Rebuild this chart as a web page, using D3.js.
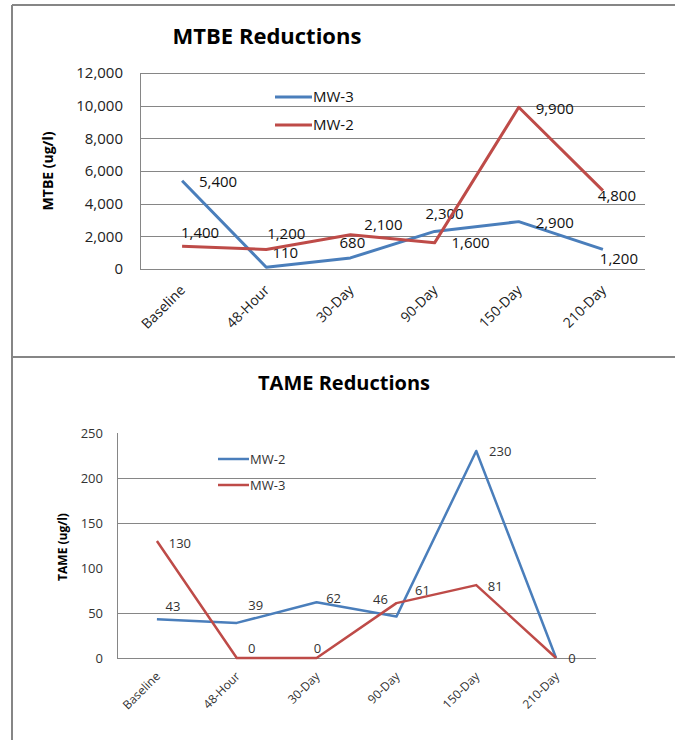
<!doctype html>
<html lang="en">
<head>
<meta charset="UTF-8">
<script src="https://d3js.org/d3.v7.min.js"></script>
<title>MTBE / TAME Reductions</title>
<style>
    body { margin: 0; background: #fff; }
    text { font-family: "Open Sans", sans-serif; }
</style>
</head>
<body>
<div class="container"></div>
<script>
    // data
    const categories = ['Baseline', '48-Hour', '30-Day', '90-Day', '150-Day', '210-Day'];

    const mtbeMW3 = [5400, 110, 680, 2300, 2900, 1200];
    const mtbeMW2 = [1400, 1200, 2100, 1600, 9900, 4800];
    const mtbeTicks = [0, 2000, 4000, 6000, 8000, 10000, 12000];

    const tameMW2 = [43, 39, 62, 46, 230, 0];
    const tameMW3 = [130, 0, 0, 61, 81, 0];
    const tameTicks = [0, 50, 100, 150, 200, 250];
    const tameGrid = [0, 50, 150, 200]; // lines that show up in the picture

    // where each data label sits relative to its point (dx, dy of label centre)
    // null = label hidden under the other series' label
    const mtbeMW3Lab = [[36, 1], [19, -14], [2, -15], [10, -18], [36, 1], [16, 9]];
    const mtbeMW2Lab = [[18, -13], [20, -16], [33, -10], [36, 0], [36, 1], [14, 5]];
    const tameMW2Lab = [[16, -13], [19, -17], [17, -4], [-16, -17], [24, 0], [16, 0]];
    const tameMW3Lab = [[23, 2], [15, -10], [1, -10], [26, -13], [19, 1], null];

    const blue = '#4a7ebb', red = '#be4b48', grey = '#868686';

    let svg = d3.select('.container').append('svg')
        .attr('width', 675)
        .attr('height', 740);

    // frames round the two charts
    let frame = [[12, 5, 675, 5], [12, 5, 12, 357], [12, 357, 675, 357], [12, 357, 12, 740]];
    frame.forEach(function (f) {
        svg.append('line')
            .attr('x1', f[0]).attr('y1', f[1]).attr('x2', f[2]).attr('y2', f[3])
            .attr('stroke', grey).attr('stroke-width', 2);
    });

    function drawChart(c) {
        let x = d3.scaleBand().domain(categories).range([c.left, c.right]);
        let y = d3.scaleLinear().domain([0, c.ticks[c.ticks.length - 1]]).range([c.bottom, c.top]);
        let cx = function (d) { return x(d) + x.bandwidth() / 2; };
        let g = svg.append('g');

        g.append('text')
            .attr('x', c.titleX).attr('y', c.titleY)
            .attr('text-anchor', 'middle')
            .attr('font-weight', 'bold')
            .attr('font-size', c.titleSize)
            .text(c.title);

        // gridlines
        g.selectAll('.grid').data(c.grid).enter().append('line')
            .attr('x1', c.left).attr('x2', c.right)
            .attr('y1', function (d) { return Math.round(y(d)) + 0.5; })
            .attr('y2', function (d) { return Math.round(y(d)) + 0.5; })
            .attr('stroke', grey).attr('stroke-width', 1);
        g.append('line')
            .attr('x1', c.left + 0.5).attr('x2', c.left + 0.5)
            .attr('y1', c.top).attr('y2', c.bottom)
            .attr('stroke', grey).attr('stroke-width', 1);

        // y axis labels
        let fmt = d3.format(',');
        g.selectAll('.ytick').data(c.ticks).enter().append('text')
            .attr('x', c.left - c.tickGap)
            .attr('y', function (d) { return y(d); })
            .attr('dy', '0.35em')
            .attr('text-anchor', 'end')
            .attr('font-size', c.tickSize)
            .attr('fill', c.tickColor)
            .text(function (d) { return fmt(d); });

        g.append('text')
            .attr('transform', 'translate(' + c.yTitleX + ',' + c.yTitleY + ') rotate(-90)')
            .attr('text-anchor', 'middle')
            .attr('font-weight', 'bold')
            .attr('font-size', c.yTitleSize)
            .text(c.yTitle);

        // x axis labels, slanted
        g.selectAll('.xtick').data(categories).enter().append('text')
            .attr('transform', function (d) {
                return 'translate(' + (cx(d) + 4) + ',' + (c.bottom + c.xGap) + ') rotate(-45)';
            })
            .attr('text-anchor', 'end')
            .attr('font-size', c.xSize)
            .attr('fill', c.tickColor)
            .text(function (d) { return d; });

        let line = d3.line()
            .x(function (d, i) { return cx(categories[i]); })
            .y(function (d) { return y(d); });

        c.series.forEach(function (s) {
            g.append('path')
                .datum(s.values)
                .attr('d', line)
                .attr('fill', 'none')
                .attr('stroke', s.color)
                .attr('stroke-width', c.lineWidth)
                .attr('stroke-linejoin', 'round');

            let pts = s.values.map(function (v, i) { return {v: v, i: i, lab: s.labels[i]}; })
                .filter(function (p) { return p.lab; });
            g.selectAll(null).data(pts).enter().append('text')
                .attr('x', function (p) { return cx(categories[p.i]) + p.lab[0]; })
                .attr('y', function (p) { return y(p.v) + p.lab[1]; })
                .attr('dy', '0.35em')
                .attr('text-anchor', 'middle')
                .attr('font-size', c.labelSize)
                .attr('fill', c.labelColor)
                .text(function (p) { return fmt(p.v); });
        });

        // legend
        c.series.forEach(function (s, i) {
            let ly = c.legendY + i * c.legendStep;
            g.append('line')
                .attr('x1', c.legendX).attr('x2', c.legendX + c.legendLen)
                .attr('y1', ly).attr('y2', ly)
                .attr('stroke', s.color).attr('stroke-width', c.lineWidth);
            g.append('text')
                .attr('x', c.legendX + c.legendLen + 1).attr('y', ly)
                .attr('dy', '0.35em')
                .attr('font-size', c.legendSize)
                .attr('fill', c.labelColor)
                .text(s.name);
        });
    }

    drawChart({
        title: 'MTBE Reductions', titleX: 267, titleY: 44, titleSize: 22,
        left: 140, right: 645, top: 73, bottom: 269,
        ticks: mtbeTicks, grid: mtbeTicks,
        tickGap: 17, tickSize: 15, tickColor: '#222',
        yTitle: 'MTBE (ug/l)', yTitleX: 53, yTitleY: 171, yTitleSize: 14,
        xGap: 22, xSize: 14,
        lineWidth: 3, labelSize: 15, labelColor: '#111',
        legendX: 275, legendY: 97, legendStep: 28, legendLen: 37, legendSize: 15,
        series: [
            {name: 'MW-3', values: mtbeMW3, color: blue, labels: mtbeMW3Lab},
            {name: 'MW-2', values: mtbeMW2, color: red, labels: mtbeMW2Lab}
        ]
    });

    drawChart({
        title: 'TAME Reductions', titleX: 344, titleY: 390, titleSize: 20,
        left: 117, right: 596, top: 433, bottom: 658,
        ticks: tameTicks, grid: tameGrid,
        tickGap: 14, tickSize: 13, tickColor: '#333',
        yTitle: 'TAME (ug/l)', yTitleX: 67, yTitleY: 547, yTitleSize: 12,
        xGap: 19, xSize: 12,
        lineWidth: 2.5, labelSize: 13, labelColor: '#333',
        legendX: 218, legendY: 459, legendStep: 26, legendLen: 31, legendSize: 13,
        series: [
            {name: 'MW-2', values: tameMW2, color: blue, labels: tameMW2Lab},
            {name: 'MW-3', values: tameMW3, color: red, labels: tameMW3Lab}
        ]
    });
</script>
</body>
</html>
